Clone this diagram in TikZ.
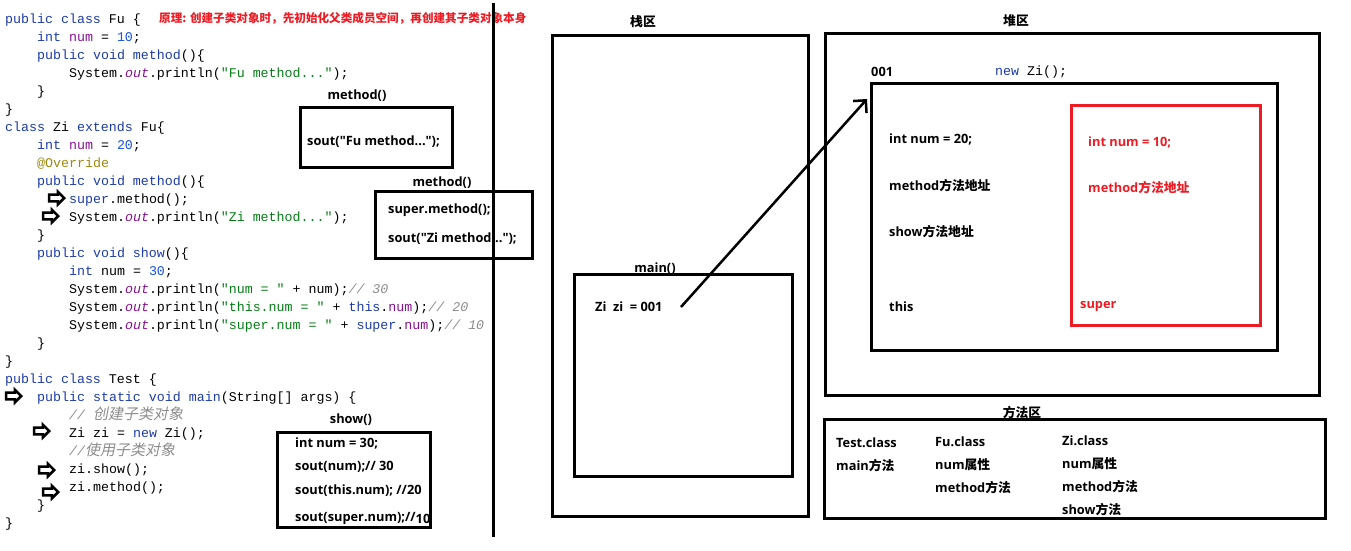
\documentclass[tikz,border=0pt]{standalone}
\usepackage{fontspec}
\setmonofont{Liberation Mono}
\newfontfamily\lab{Open Sans}
\newfontfamily\cjk{Noto Sans CJK SC}
\newfontfamily\cjkit{Noto Sans CJK SC}[FakeSlant=0.2]
\usetikzlibrary{shapes.arrows,arrows.meta}
\definecolor{kwc}{HTML}{1D3BA8}
\definecolor{fldc}{HTML}{871094}
\definecolor{numc}{HTML}{1750EB}
\definecolor{strc}{HTML}{067D17}
\definecolor{cmc}{HTML}{8C8C8C}
\definecolor{annc}{HTML}{9E880D}
\definecolor{pred}{HTML}{ED1C24}
\newcommand\kwd[1]{\textcolor{kwc}{#1}}
\newcommand\fld[1]{\textcolor{fldc}{#1}}
\newcommand\numl[1]{\textcolor{numc}{#1}}
\newcommand\strl[1]{\textcolor{strc}{#1}}
\newcommand\outf{\textcolor{fldc}{\itshape out}}
\newcommand\cmt[1]{\textcolor{cmc}{\itshape #1}}
\newcommand\zh[1]{{\cjk #1}}
\newcommand\zhc[1]{{\cjkit\upshape\fontsize{15}{15}\selectfont #1}}
\begin{document}
\begin{tikzpicture}[x=1pt,y=-1pt,
  codeln/.style={anchor=base west, inner sep=0pt, font=\ttfamily\fontsize{13.3}{15}\selectfont},
  lbl/.style={anchor=base west, inner sep=0pt, yshift=-4.6pt, font=\lab\bfseries\fontsize{12.8}{14}\selectfont},
  lblc/.style={lbl, anchor=base},
  frame/.style={draw, line width=3pt, anchor=north west, inner sep=0pt, outer sep=0pt},
  blockarr/.style={shape=single arrow, draw, line width=2.5pt, inner sep=2.2pt, minimum height=15pt,
     single arrow head extend=2.8pt, single arrow head indent=0pt},
  ptr/.style={line width=2.5pt, -{Straight Barb[length=9pt,width=18pt]}}
]
\useasboundingbox (0,0) rectangle (1351,550);

% ---------------- code ----------------
\node[codeln] (c1) at (5,23) {\kwd{public} \kwd{class} Fu \{};
\node[codeln] (c2) at (37,41) {\kwd{int} \fld{num} = \numl{10};};
\node[codeln] (c3) at (37,59) {\kwd{public} \kwd{void} \kwd{method}()\{};
\node[codeln] (c4) at (69,77) {System.\outf.println(\strl{"Fu method..."});};
\node[codeln] (c5) at (37,95) {\}};
\node[codeln] (c6) at (5,113) {\}};
\node[codeln] (c7) at (5,131) {\kwd{class} Zi \kwd{extends} Fu\{};
\node[codeln] (c8) at (37,149) {\kwd{int} \fld{num} = \numl{20};};
\node[codeln] (c9) at (37,167) {\textcolor{annc}{@Override}};
\node[codeln] (c10) at (37,185) {\kwd{public} \kwd{void} \kwd{method}()\{};
\node[codeln] (c11) at (69,203) {\kwd{super}.method();};
\node[codeln] (c12) at (69,221) {System.\outf.println(\strl{"Zi method..."});};
\node[codeln] (c13) at (37,239) {\}};
\node[codeln] (c14) at (37,257) {\kwd{public} \kwd{void} \kwd{show}()\{};
\node[codeln] (c15) at (69,275) {\kwd{int} num = \numl{30};};
\node[codeln] (c16) at (69,293) {System.\outf.println(\strl{"num = "} + num);\cmt{// 30}};
\node[codeln] (c17) at (69,311) {System.\outf.println(\strl{"this.num = "} + \kwd{this}.\fld{num});\cmt{// 20}};
\node[codeln] (c18) at (69,329) {System.\outf.println(\strl{"super.num = "} + \kwd{super}.\fld{num});\cmt{// 10}};
\node[codeln] (c19) at (37,347) {\}};
\node[codeln] (c20) at (5,365) {\}};
\node[codeln] (c21) at (5,383) {\kwd{public} \kwd{class} Test \{};
\node[codeln] (c22) at (37,401) {\kwd{public} \kwd{static} \kwd{void} \kwd{main}(String[] args) \{};
\node[codeln] (c23) at (69,419) {\cmt{// \zhc{创建子类对象}}};
\node[codeln] (c24) at (69,437) {Zi zi = \kwd{new} Zi();};
\node[codeln] (c25) at (69,455) {\cmt{//\zhc{使用子类对象}}};
\node[codeln] (c26) at (69,473) {zi.show();};
\node[codeln] (c27) at (69,491) {zi.method();};
\node[codeln] (c28) at (37,509) {\}};
\node[codeln] (c29) at (5,527) {\}};

% block arrows
\node[blockarr] (ar1) at (55,198) {};
\node[blockarr] (ar2) at (49,216) {};
\node[blockarr] (ar3) at (12,396) {};
\node[blockarr] (ar4) at (40,431) {};
\node[blockarr] (ar5) at (45,470) {};
\node[blockarr] (ar6) at (49,492) {};

% title
\node[lbl, text=pred, font=\cjk\bfseries\fontsize{11.6}{13}\selectfont] (title) at (159,18)
  {原理: 创建子类对象时，先初始化父类成员空间，再创建其子类对象本身};

% method boxes
\node[frame, minimum width=152pt, minimum height=60pt] (m1) at (300,107) {};
\node[lblc] (m1t) at (357,95) {method()};
\node[lbl] (m1a) at (307,141) {sout("Fu method...");};

\node[frame, minimum width=157pt, minimum height=67pt] (m2) at (375,191) {};
\node[lblc] (m2t) at (442,182) {method()};
\node[lbl] (m2a) at (388,209) {super.method();};
\node[lbl] (m2b) at (388,238) {sout("Zi method...");};

\node[frame, minimum width=153pt, minimum height=95pt] (showb) at (277,432) {};
\node[lblc] (st) at (351,419) {show()};
\node[lbl] (s1) at (295,443) {int num = 30;};
\node[lbl] (s2) at (295,466) {sout(num);// 30};
\node[lbl] (s3) at (295,490) {sout(this.num); //20};
\node[lbl] (s4) at (295,517) {sout(super.num);//\raisebox{-2pt}{10}};

% divider
\draw[line width=3pt] (493,3) -- (493,537);

% stack
\node[lblc] (stt) at (643,22) {\zh{栈区}};
\node[frame, minimum width=256pt, minimum height=481pt] (stack) at (552,35) {};
\node[lblc] (mt) at (655,268) {main()};
\node[frame, minimum width=218pt, minimum height=202pt] (mainf) at (574,274) {};
\node[lbl] (zz) at (595,307) {Zi\ \ zi\ \ = 001};

% heap
\node[lblc] (ht) at (1016,21) {\zh{堆区}};
\node[frame, minimum width=494pt, minimum height=362pt] (heap) at (825,33) {};
\node[lbl] (addr) at (871,72) {001};
\node[codeln] (nz) at (995,75) {\kwd{new} Zi();};
\node[frame, minimum width=406pt, minimum height=267pt] (obj) at (871,83) {};
\node[lbl] (o1) at (889,139) {int num = 20;};
\node[lbl] (o2) at (889,186) {method\zh{方法地址}};
\node[lbl] (o3) at (889,232) {show\zh{方法地址}};
\node[lbl] (o4) at (889,307) {this};
\node[frame, draw=pred, minimum width=189pt, minimum height=220pt] (sup) at (1071,105) {};
\node[lbl, text=pred] (r1) at (1088,142) {int num = 10;};
\node[lbl, text=pred] (r2) at (1088,188) {method\zh{方法地址}};
\node[lbl, text=pred] (r3) at (1080,304) {super};

% method area
\node[lblc] (mat) at (1022,413) {\zh{方法区}};
\node[frame, minimum width=501pt, minimum height=99pt] (marea) at (824,419) {};
\node[lbl] (t1) at (836,443) {Test.class};
\node[lbl] (t2) at (836,466) {main\zh{方法}};
\node[lbl] (f1) at (935,442) {Fu.class};
\node[lbl] (f2) at (935,465) {num\zh{属性}};
\node[lbl] (f3) at (935,488) {method\zh{方法}};
\node[lbl] (z1) at (1062,441) {Zi.class};
\node[lbl] (z2) at (1062,464) {num\zh{属性}};
\node[lbl] (z3) at (1062,487) {method\zh{方法}};
\node[lbl] (z4) at (1062,510) {show\zh{方法}};

% pointer
\coordinate (zzend) at (681,307);
\coordinate (tip) at (867,99);
\draw[ptr] (zzend) -- (tip);
\end{tikzpicture}
\end{document}
